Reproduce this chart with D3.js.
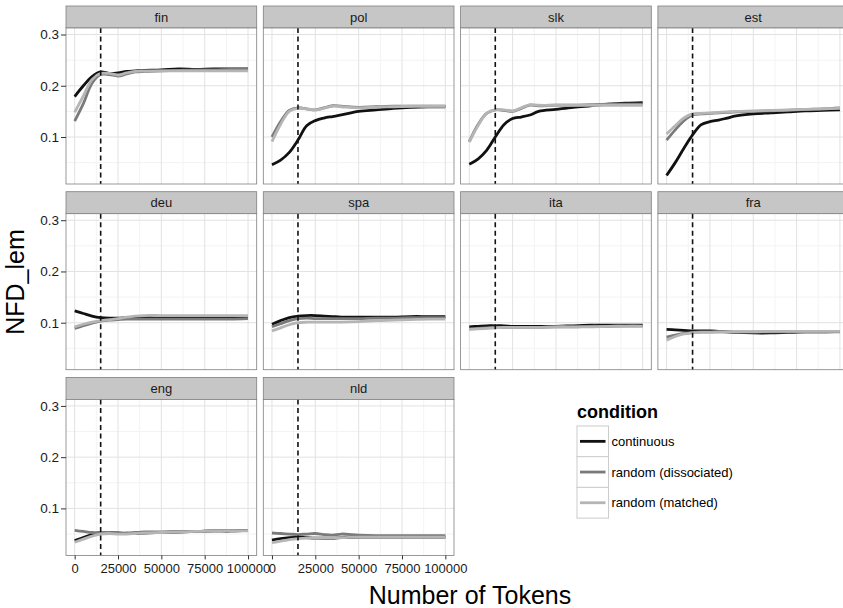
<!DOCTYPE html>
<html>
<head>
    <style>
        html,
        body {
            width: 100%;
            height: 100%;
            margin: 0;
            padding: 0;
            overflow: hidden;
            background: #fff;
        }
        text { font-family: "Liberation Sans", Arial, sans-serif; }
    </style>
</head>
<body>
<script src="https://d3js.org/d3.v7.min.js"></script>
<script>
    const width = 843;
    const height = 608;

    // languages in facet order
    const languages = ["fin", "pol", "slk", "est", "deu", "spa", "ita", "fra", "eng", "nld"];
    const conditions = ["continuous", "random (dissociated)", "random (matched)"];
    const colors = ["#111111", "#7a7a7a", "#b5b5b5"];

    const tokens = [0, 5000, 10000, 15000, 20000, 25000, 30000, 35000, 40000, 50000, 60000, 70000, 80000, 90000, 100000];
    const xTicks = [0, 25000, 50000, 75000, 100000];
    const yTicks = [0.1, 0.2, 0.3];
    const cutoff = 15000; // dashed line

    // NFD_lem values per language: [continuous, dissociated, matched]
    const fin = [
        [0.179, 0.200, 0.218, 0.227, 0.224, 0.225, 0.228, 0.229, 0.230, 0.231, 0.233, 0.232, 0.233, 0.233, 0.233],
        [0.131, 0.165, 0.205, 0.222, 0.222, 0.219, 0.223, 0.227, 0.228, 0.229, 0.230, 0.231, 0.231, 0.232, 0.232],
        [0.148, 0.180, 0.212, 0.224, 0.224, 0.221, 0.225, 0.228, 0.229, 0.229, 0.229, 0.229, 0.229, 0.229, 0.229]
    ];
    const pol = [
        [0.046, 0.055, 0.070, 0.094, 0.122, 0.132, 0.137, 0.140, 0.143, 0.150, 0.153, 0.156, 0.158, 0.159, 0.159],
        [0.100, 0.130, 0.152, 0.157, 0.155, 0.153, 0.157, 0.161, 0.160, 0.158, 0.159, 0.160, 0.160, 0.160, 0.160],
        [0.091, 0.125, 0.150, 0.156, 0.155, 0.153, 0.156, 0.160, 0.159, 0.157, 0.158, 0.159, 0.160, 0.160, 0.160]
    ];
    const slk = [
        [0.047, 0.057, 0.074, 0.100, 0.124, 0.136, 0.139, 0.143, 0.150, 0.154, 0.158, 0.161, 0.164, 0.166, 0.167],
        [0.091, 0.124, 0.146, 0.153, 0.152, 0.150, 0.156, 0.162, 0.161, 0.162, 0.162, 0.163, 0.164, 0.164, 0.164],
        [0.090, 0.122, 0.146, 0.153, 0.153, 0.151, 0.157, 0.163, 0.162, 0.162, 0.162, 0.162, 0.162, 0.162, 0.162]
    ];
    const est = [
        [0.025, 0.050, 0.078, 0.104, 0.124, 0.130, 0.133, 0.137, 0.141, 0.145, 0.147, 0.149, 0.151, 0.152, 0.153],
        [0.094, 0.114, 0.132, 0.143, 0.145, 0.146, 0.147, 0.148, 0.149, 0.150, 0.151, 0.152, 0.154, 0.155, 0.157],
        [0.106, 0.122, 0.137, 0.145, 0.146, 0.147, 0.148, 0.149, 0.150, 0.151, 0.152, 0.153, 0.154, 0.155, 0.156]
    ];
    const deu = [
        [0.123, 0.118, 0.113, 0.110, 0.109, 0.109, 0.110, 0.110, 0.110, 0.110, 0.110, 0.110, 0.110, 0.111, 0.111],
        [0.089, 0.094, 0.099, 0.103, 0.105, 0.106, 0.107, 0.107, 0.107, 0.107, 0.107, 0.107, 0.107, 0.107, 0.108],
        [0.092, 0.097, 0.101, 0.104, 0.106, 0.108, 0.111, 0.113, 0.114, 0.114, 0.114, 0.114, 0.114, 0.114, 0.114]
    ];
    const spa = [
        [0.097, 0.104, 0.110, 0.113, 0.114, 0.114, 0.113, 0.112, 0.111, 0.111, 0.111, 0.111, 0.112, 0.112, 0.112],
        [0.092, 0.098, 0.104, 0.108, 0.109, 0.108, 0.108, 0.108, 0.108, 0.108, 0.109, 0.109, 0.110, 0.110, 0.110],
        [0.084, 0.090, 0.096, 0.100, 0.101, 0.101, 0.101, 0.101, 0.101, 0.102, 0.104, 0.105, 0.106, 0.107, 0.107]
    ];
    const ita = [
        [0.092, 0.093, 0.094, 0.094, 0.094, 0.093, 0.093, 0.093, 0.093, 0.093, 0.094, 0.095, 0.095, 0.095, 0.095],
        [0.088, 0.089, 0.090, 0.091, 0.091, 0.091, 0.091, 0.091, 0.091, 0.092, 0.092, 0.093, 0.093, 0.094, 0.094],
        [0.087, 0.088, 0.089, 0.090, 0.091, 0.091, 0.091, 0.091, 0.091, 0.092, 0.092, 0.092, 0.093, 0.093, 0.093]
    ];
    const fra = [
        [0.087, 0.086, 0.085, 0.084, 0.084, 0.084, 0.083, 0.082, 0.081, 0.080, 0.080, 0.081, 0.082, 0.082, 0.083],
        [0.072, 0.076, 0.079, 0.081, 0.082, 0.082, 0.082, 0.082, 0.082, 0.082, 0.082, 0.082, 0.082, 0.082, 0.082],
        [0.066, 0.073, 0.078, 0.080, 0.081, 0.081, 0.082, 0.082, 0.082, 0.082, 0.083, 0.083, 0.083, 0.083, 0.083]
    ];
    const eng = [
        [0.037, 0.043, 0.049, 0.053, 0.053, 0.052, 0.051, 0.051, 0.052, 0.053, 0.054, 0.055, 0.056, 0.056, 0.057],
        [0.057, 0.055, 0.053, 0.053, 0.053, 0.052, 0.052, 0.053, 0.054, 0.054, 0.055, 0.055, 0.056, 0.056, 0.057],
        [0.034, 0.040, 0.046, 0.050, 0.051, 0.050, 0.050, 0.051, 0.052, 0.053, 0.054, 0.055, 0.056, 0.056, 0.056]
    ];
    const nld = [
        [0.038, 0.041, 0.043, 0.044, 0.043, 0.042, 0.042, 0.042, 0.043, 0.044, 0.044, 0.044, 0.044, 0.044, 0.044],
        [0.052, 0.051, 0.050, 0.049, 0.050, 0.051, 0.049, 0.048, 0.050, 0.048, 0.047, 0.047, 0.047, 0.047, 0.047],
        [0.033, 0.036, 0.039, 0.041, 0.042, 0.042, 0.043, 0.043, 0.043, 0.044, 0.044, 0.044, 0.044, 0.044, 0.044]
    ];
    const values = { fin, pol, slk, est, deu, spa, ita, fra, eng, nld };

    // facet layout
    const ncol = 4;
    const left0 = 66, top0 = 6;
    const panelW = 190.7, colStep = 197.3;
    const stripH = 22, panelH = 178, rowStep = 185.7;
    const plotH = panelH - stripH;

    const x = d3.scaleLinear().domain([-5000, 105000]).range([0, panelW]);
    const y = d3.scaleLinear().domain([0.0083, 0.3127]).range([plotH, 0]);

    const svg = d3.select("body")
        .append("svg")
        .attr("width", width)
        .attr("height", height);

    const line = d3.line()
        .x((d, i) => x(tokens[i]))
        .y(d => y(d))
        .curve(d3.curveCatmullRom.alpha(0.5));

    const nRows = Math.ceil(languages.length / ncol);

    languages.forEach((lang, idx) => {
        const col = idx % ncol, row = Math.floor(idx / ncol);
        const px = left0 + col * colStep;
        const py = top0 + row * rowStep;
        const g = svg.append("g").attr("transform", `translate(${px},${py})`);

        // strip
        g.append("rect")
            .attr("width", panelW).attr("height", stripH)
            .attr("fill", "#c6c6c6").attr("stroke", "#7f7f7f").attr("stroke-width", 0.8);
        g.append("text")
            .attr("x", panelW / 2).attr("y", stripH / 2 + 4.5)
            .attr("text-anchor", "middle")
            .attr("font-size", 13).attr("fill", "#1a1a1a")
            .text(lang);

        const p = g.append("g").attr("transform", `translate(0,${stripH})`);
        p.append("rect").attr("width", panelW).attr("height", plotH).attr("fill", "#fff");

        // minor grid
        const xMinor = [12500, 37500, 62500, 87500];
        const yMinor = [0.05, 0.15, 0.25];
        p.selectAll(".xminor").data(xMinor).join("line")
            .attr("class", "xminor")
            .attr("x1", d => x(d)).attr("x2", d => x(d))
            .attr("y1", 0).attr("y2", plotH)
            .attr("stroke", "#f3f3f3").attr("stroke-width", 1);
        p.selectAll(".yminor").data(yMinor).join("line")
            .attr("class", "yminor")
            .attr("x1", 0).attr("x2", panelW)
            .attr("y1", d => y(d)).attr("y2", d => y(d))
            .attr("stroke", "#f3f3f3").attr("stroke-width", 1);
        // major grid
        p.selectAll(".xmajor").data(xTicks).join("line")
            .attr("class", "xmajor")
            .attr("x1", d => x(d)).attr("x2", d => x(d))
            .attr("y1", 0).attr("y2", plotH)
            .attr("stroke", "#e2e2e2").attr("stroke-width", 1);
        p.selectAll(".ymajor").data(yTicks).join("line")
            .attr("class", "ymajor")
            .attr("x1", 0).attr("x2", panelW)
            .attr("y1", d => y(d)).attr("y2", d => y(d))
            .attr("stroke", "#e2e2e2").attr("stroke-width", 1);

        // curves
        values[lang].forEach((series, k) => {
            p.append("path")
                .datum(series)
                .attr("d", line)
                .attr("fill", "none")
                .attr("stroke", colors[k])
                .attr("stroke-width", 2.8)
                .attr("stroke-linecap", "butt");
        });

        // dashed cutoff line
        p.append("line")
            .attr("x1", x(cutoff)).attr("x2", x(cutoff))
            .attr("y1", 0).attr("y2", plotH)
            .attr("stroke", "#111").attr("stroke-width", 1.6)
            .attr("stroke-dasharray", "5,3.5");

        p.append("rect").attr("width", panelW).attr("height", plotH)
            .attr("fill", "none").attr("stroke", "#7f7f7f").attr("stroke-width", 0.8);

        // y axis on the first column
        if (col === 0) {
            const ya = p.append("g").call(d3.axisLeft(y).tickValues(yTicks).tickSize(5).tickPadding(2).tickFormat(d3.format(".1f")));
            ya.select(".domain").remove();
            ya.selectAll("line").attr("stroke", "#333");
            ya.selectAll("text").attr("font-size", 13.5).attr("fill", "#1a1a1a")
                .attr("font-family", "Liberation Sans, Arial, sans-serif");
        }
        // x axis only on the panels of the last row
        if (row === nRows - 1) {
            const xa = p.append("g").attr("transform", `translate(0,${plotH})`)
                .call(d3.axisBottom(x).tickValues(xTicks).tickSize(4).tickPadding(4).tickFormat(d3.format("d")));
            xa.select(".domain").remove();
            xa.selectAll("line").attr("stroke", "#333");
            xa.selectAll("text").attr("font-size", 13).attr("fill", "#1a1a1a")
                .attr("font-family", "Liberation Sans, Arial, sans-serif");
        }
    });

    // axis titles
    svg.append("text")
        .attr("x", 470).attr("y", 604)
        .attr("text-anchor", "middle")
        .attr("font-size", 25).attr("fill", "#000")
        .text("Number of Tokens");
    svg.append("text")
        .attr("transform", "translate(24,282) rotate(-90)")
        .attr("text-anchor", "middle")
        .attr("font-size", 25).attr("fill", "#000")
        .text("NFD_lem");

    // legend
    const lg = svg.append("g").attr("transform", "translate(577,418)");
    lg.append("text")
        .attr("x", 0).attr("y", 0)
        .attr("font-size", 18).attr("font-weight", "bold").attr("fill", "#000")
        .text("condition");
    const keyW = 31.5, keyH = 30.7;
    conditions.forEach((c, i) => {
        const ky = 8 + i * keyH;
        lg.append("rect")
            .attr("x", 0).attr("y", ky).attr("width", keyW).attr("height", keyH)
            .attr("fill", "#fff").attr("stroke", "#cccccc").attr("stroke-width", 1);
        lg.append("line")
            .attr("x1", 3).attr("x2", keyW - 3)
            .attr("y1", ky + keyH / 2).attr("y2", ky + keyH / 2)
            .attr("stroke", colors[i]).attr("stroke-width", 2.8);
        lg.append("text")
            .attr("x", keyW + 3).attr("y", ky + keyH / 2 + 4.5)
            .attr("font-size", 13).attr("fill", "#000")
            .text(c);
    });
</script>
</body>
</html>
